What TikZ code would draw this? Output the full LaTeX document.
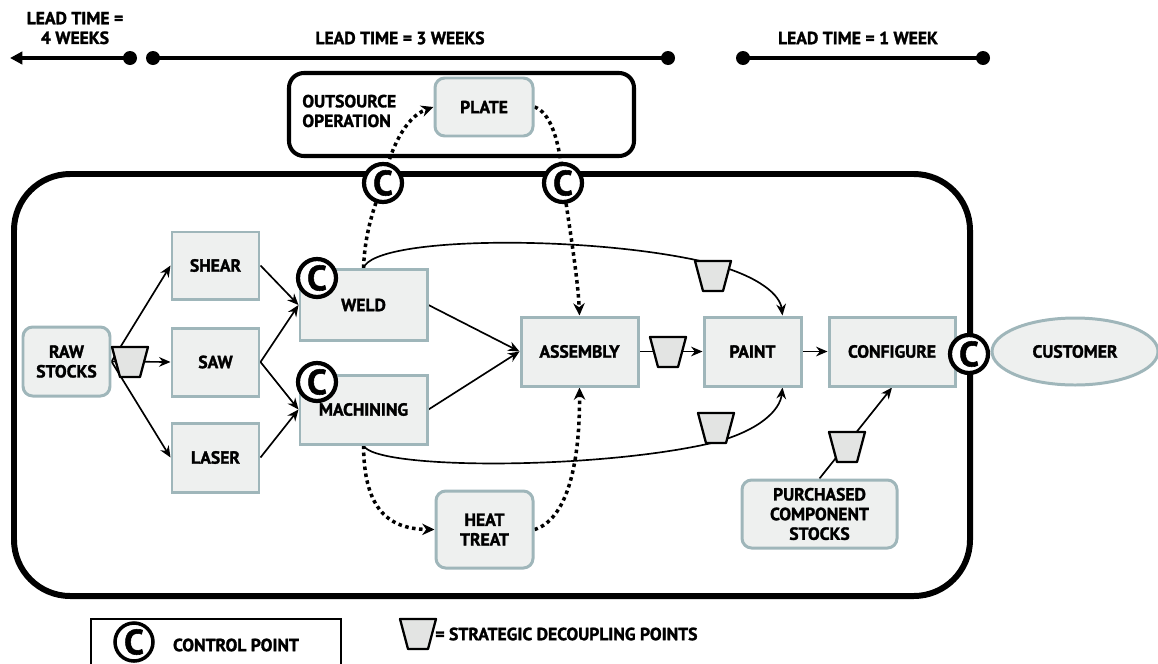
\documentclass[tikz,border=0pt]{standalone}
\usepackage{fontspec}
\setmainfont{PT Sans}[BoldFeatures={FakeBold=1.6}]
\usetikzlibrary{arrows.meta,shapes.geometric,calc}
\definecolor{boxfill}{HTML}{EEF0EF}
\definecolor{boxline}{HTML}{9FB6BA}
\definecolor{decfill}{HTML}{E3E4E3}
\pgfdeclarelayer{frames}
\pgfdeclarelayer{edges}
\pgfsetlayers{frames,edges,main}

\begin{document}
\begin{tikzpicture}[x=0.02cm,y=-0.02cm,
  every node/.style={font=\fontsize{10}{11.2}\selectfont\bfseries, align=center, inner sep=0pt},
  sz/.style 2 args={minimum width=#1*0.02cm, minimum height=#2*0.02cm},
  proc/.style={rectangle, draw=boxline, fill=boxfill, line width=1.7pt},
  stock/.style={proc, rounded corners=5.5pt},
  cpt/.style={circle, draw, fill=white, line width=2.4pt, minimum size=38*0.02cm,
              font=\fontsize{20}{20}\selectfont\bfseries},
  flow/.style={line width=0.95pt, -{Stealth[length=6.5pt,width=5.5pt]}},
  link/.style={line width=2pt, dash pattern=on 2pt off 2pt,
               -{Stealth[length=7pt,width=6.5pt]}},
  lead/.style={line width=2.3pt},
  dot/.style={circle, fill, minimum size=14*0.02cm},
  decouple/.pic={\draw[fill=decfill, line width=1.3pt, line join=round]
                 (-18,-15) -- (18,-15) -- (10,15) -- (-10,15) -- cycle;}
]
\useasboundingbox (0,0) rectangle (1158,663);

% ---- lead time scale ----
\node[dot] (l4b) at (130,58) {};
\coordinate (l4a) at (10,58);
\node[dot] (l3a) at (153,58) {};
\node[dot] (l3b) at (668,58) {};
\node[dot] (l1a) at (743,58) {};
\node[dot] (l1b) at (983,58) {};
\draw[lead, -{Triangle[length=7pt,width=7pt]}] (l4b.center) -- (l4a);
\draw[lead] (l3a.center) -- (l3b.center);
\draw[lead] (l1a.center) -- (l1b.center);
\node (t4) at (75,28) {LEAD TIME =\\4 WEEKS};
\node (t3) at (400,38) {LEAD TIME = 3 WEEKS};
\node (t1) at (858,38) {LEAD TIME = 1 WEEK};

% ---- frames ----
\begin{pgfonlayer}{frames}
  \draw[line width=3.4pt, rounded corners=32pt] (14,174) rectangle (970,596);
  \draw[line width=2.3pt, rounded corners=8.5pt] (289,73) rectangle (634,156);
\end{pgfonlayer}
\node[anchor=west, align=left] (out) at (302,111) {OUTSOURCE\\OPERATION};

% ---- process nodes ----
\node[stock, sz={98}{58}] (plate) at (484,107) {PLATE};
\node[stock, sz={87}{69}] (raw) at (66.5,361.5) {RAW\\STOCKS};
\node[proc, sz={87}{67}] (shear) at (215.5,265.5) {SHEAR};
\node[proc, sz={87}{68}] (saw) at (215.5,362) {SAW};
\node[proc, sz={87}{69}] (laser) at (215.5,457.5) {LASER};
\node[proc, sz={127}{71}] (weld) at (363.5,305) {WELD};
\node[proc, sz={127}{69}] (mach) at (363.5,409.5) {MACHINING};
\node[proc, sz={117}{69}] (asm) at (579.5,351.5) {ASSEMBLY};
\node[proc, sz={97}{69}] (paint) at (752.5,351.5) {PAINT};
\node[proc, sz={126}{69}] (conf) at (892,351.5) {CONFIGURE};
\node[ellipse, draw=boxline, fill=boxfill, line width=1.7pt, sz={166}{67}] (cust) at (1075,351.5) {CUSTOMER};
\node[stock, sz={97}{77}] (heat) at (484.5,529.5) {HEAT\\TREAT};
\node[stock, sz={155}{68}] (purch) at (819.5,514) {PURCHASED\\COMPONENT\\STOCKS};

% ---- control points ----
\node[cpt] (c1) at (383,183) {C};
\node[cpt] (c2) at (563,183) {C};
\node[cpt] (cw) at (317,278) {C};
\node[cpt] (cm) at (317,382) {C};
\node[cpt] (cc) at (969,354) {C};

% ---- material flow ----
\begin{pgfonlayer}{edges}
  \draw[flow] (raw.east) -- (shear.west);
  \draw[flow] (raw.east) -- (saw.west);
  \draw[flow] (raw.east) -- (laser.west);
  \draw[flow] (shear.east) -- (weld.west);
  \draw[flow] (saw.east) -- (weld.west);
  \draw[flow] (saw.east) -- (mach.west);
  \draw[flow] (laser.east) -- (mach.west);
  \draw[flow] (weld.east) -- (asm.west);
  \draw[flow] (mach.east) -- (asm.west);
  \draw[flow] (asm.east) -- (paint.west);
  \draw[flow] (paint.east) -- (conf.west);
  \draw[flow] (conf.east) -- (cust.west);
  \draw[flow] (purch.north) -- (conf.south);
  \draw[flow] (weld.north) .. controls (375,235) and (600,235) .. (713,264)
      .. controls (760,277) and (780,295) .. ($(paint.north)!0.6!(paint.north east)$);
  \draw[flow] (mach.south) .. controls (375,470) and (600,470) .. (716,442)
      .. controls (760,430) and (780,410) .. ($(paint.south)!0.6!(paint.south east)$);
  % outsourced and heat-treat loops
  \draw[link] (weld.north) .. controls (365,230) and (375,205) .. (c1.center)
      .. controls (390,150) and (405,117) .. (plate.west);
  \draw[link] (plate.east) .. controls (550,112) and (560,140) .. (c2.center)
      .. controls (570,230) and (578,280) .. (asm.north);
  \draw[link] (mach.south) .. controls (364,505) and (385,529) .. (heat.west);
  \draw[link] (heat.east) .. controls (565,520) and (580,470) .. (asm.south);
\end{pgfonlayer}

% ---- strategic decoupling points ----
\pic (d1) at (130,362) {decouple};
\pic (d2) at (668,352) {decouple};
\pic (d3) at (713,276) {decouple};
\pic (d4) at (716,428) {decouple};
\pic (d5) at (847,447) {decouple};

% ---- legend ----
\node[draw, line width=0.9pt, sz={250}{70}, anchor=north west] (legbox) at (90,618) {};
\node[cpt, line width=2pt] (lc) at (134,642) {C};
\node (lct) at (236,645) {CONTROL POINT};
\pic (ld) at (418,634) {decouple};
\node[anchor=west] (ldt) at (435,634) {= STRATEGIC DECOUPLING POINTS};
\end{tikzpicture}
\end{document}
